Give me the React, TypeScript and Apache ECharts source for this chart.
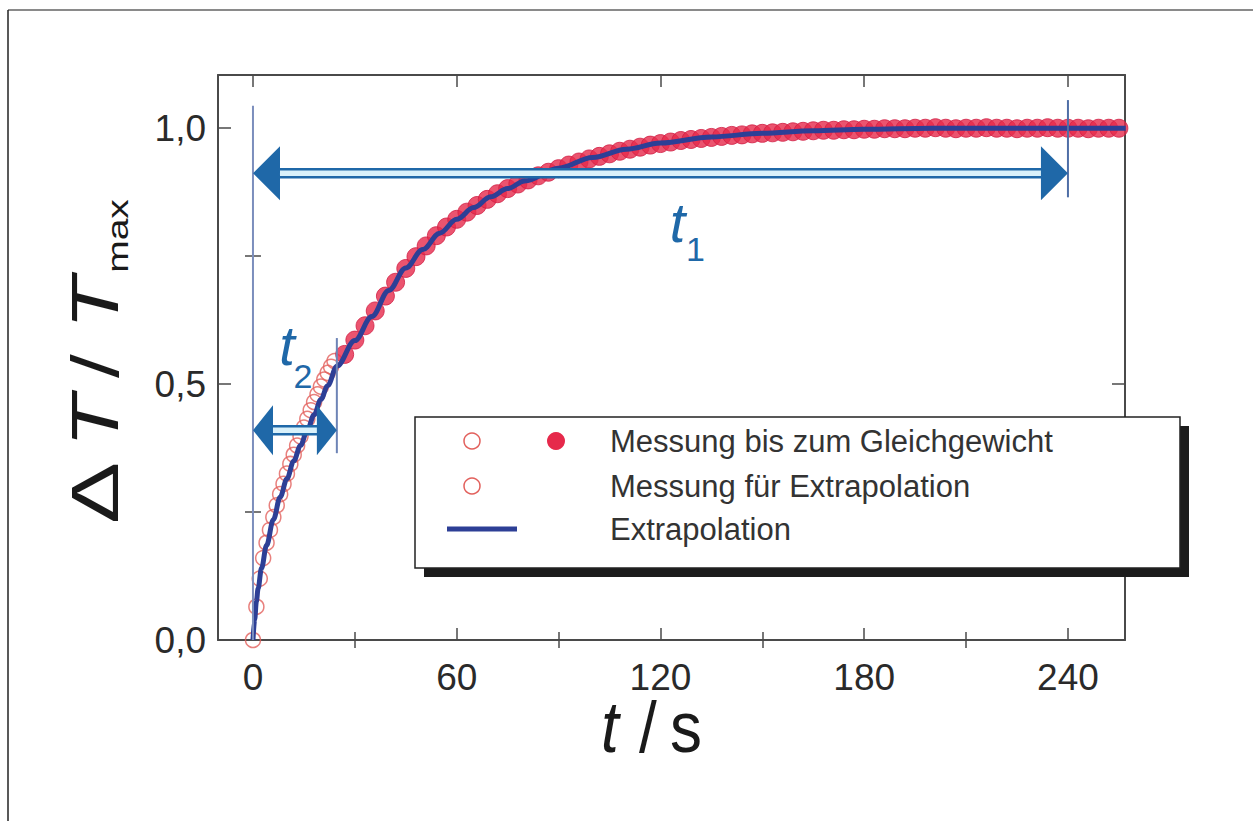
import React, { useEffect, useRef } from 'react';
import * as echarts from 'echarts';

// ---- data ----
const OPEN_T = [0, 1, 2, 3, 4, 5, 6, 7, 8, 9, 10, 11, 12, 13, 14, 15, 16, 17, 18, 19, 20, 21, 22, 23, 24];
const OPEN_V = [0.0, 0.065, 0.12, 0.16, 0.19, 0.215, 0.24, 0.263, 0.285, 0.305, 0.325, 0.344, 0.362, 0.38, 0.398, 0.415, 0.432, 0.449, 0.465, 0.48, 0.495, 0.509, 0.522, 0.534, 0.545];

const FILLED_T = [27, 30, 33, 36, 39, 42, 45, 48, 51, 54, 57, 60, 63, 66, 69, 72, 75, 78, 81, 84, 87, 90, 93, 96, 99, 102, 105, 108, 111, 114, 117, 120, 123, 126, 129, 132, 135, 138, 141, 144, 147, 150, 153, 156, 159, 162, 165, 168, 171, 174, 177, 180, 183, 186, 189, 192, 195, 198, 201, 204, 207, 210, 213, 216, 219, 222, 225, 228, 231, 234, 237, 240, 243, 246, 249, 252, 255];
const FILLED_V = [0.558, 0.586, 0.614, 0.643, 0.672, 0.699, 0.726, 0.749, 0.77, 0.79, 0.807, 0.822, 0.836, 0.849, 0.861, 0.872, 0.882, 0.891, 0.899, 0.907, 0.914, 0.921, 0.928, 0.934, 0.94, 0.945, 0.95, 0.955, 0.959, 0.963, 0.967, 0.97, 0.973, 0.976, 0.978, 0.98, 0.982, 0.984, 0.986, 0.987, 0.989, 0.99, 0.991, 0.992, 0.993, 0.994, 0.995, 0.996, 0.996, 0.997, 0.997, 0.998, 0.998, 0.999, 0.999, 0.999, 1.0, 1.0, 1.001, 1.0, 0.999, 1.0, 1.0, 1.001, 1.0, 1.0, 0.999, 1.0, 1.0, 1.001, 1.0, 1.0, 1.0, 0.999, 1.0, 1.0, 1.0];

const FIT_T = [0, 0.5, 1, 1.5, 2.5, 4, 6, 8, 10, 12, 14, 16, 18, 20, 22, 24.7, 30, 35, 40, 45, 50, 55, 60, 65, 70, 75, 80, 90, 100, 110, 120, 135, 150, 165, 180, 200, 257];
const FIT_V = [0, 0.04, 0.075, 0.1, 0.14, 0.185, 0.235, 0.279, 0.315, 0.35, 0.38, 0.41, 0.44, 0.47, 0.497, 0.535, 0.585, 0.632, 0.683, 0.727, 0.763, 0.795, 0.822, 0.845, 0.866, 0.882, 0.897, 0.922, 0.943, 0.959, 0.971, 0.983, 0.99, 0.995, 0.998, 1.0, 1.0];

const X_LABELS = [0, 60, 120, 180, 240];
const X_MINOR = [30, 90, 150, 210];
const Y_LABELS = [0, 0.5, 1.0];
const Y_MINOR = [0.25, 0.75];

const LEGEND_LABELS = ['Messung bis zum Gleichgewicht', 'Messung für Extrapolation', 'Extrapolation'];

// annotation arrows (time span, level in data units)
const T1_SPAN = [0, 240];
const T1_LEVEL = 0.912;
const T2_SPAN = [0, 24.7];
const T2_LEVEL = 0.41;

const X_MIN = -10.3;
const X_MAX = 256.8;
const Y_MIN = 0;
const Y_MAX = 1.104;

const RED = '#e6294b';
const OPEN_RED = '#e2605c';
const BLUE_LINE = '#2d3f96';
const ARROW = '#1f68a8';
const FRAME = '#4a4a4a';
const FONT = 'Liberation Sans, Arial, sans-serif';
const NARROW = '"Liberation Sans Narrow", "Liberation Sans", Arial, sans-serif';

export default function App() {
  const ref = useRef<HTMLDivElement>(null);

  useEffect(() => {
    if (!ref.current) return;
    const chart = echarts.init(ref.current, undefined, { renderer: 'svg' });

    const axisLine = { show: true, onZero: false, lineStyle: { color: FRAME, width: 2 } };
    const tickStyle = { color: FRAME, width: 1.5 };
    const xBase = { type: 'value', min: X_MIN, max: X_MAX, splitLine: { show: false } };
    const yBase = { type: 'value', min: Y_MIN, max: Y_MAX, splitLine: { show: false } };

    chart.setOption({
      animation: false,
      backgroundColor: '#ffffff',
      grid: { left: 218, top: 75, width: 907, height: 565, containLabel: false, outerBoundsMode: 'none' },
      xAxis: [
        {
          ...xBase, position: 'bottom', axisLine,
          axisTick: { show: true, inside: true, length: 12, customValues: X_LABELS, lineStyle: tickStyle },
          axisLabel: { show: true, customValues: X_LABELS, fontSize: 37, fontFamily: NARROW, color: '#2a2a2a', margin: 19 },
        },
        {
          ...xBase, position: 'bottom', axisLine: { show: false },
          axisTick: { show: true, inside: true, length: 8, customValues: X_MINOR, lineStyle: tickStyle },
          axisLabel: { show: false },
        },
        {
          ...xBase, position: 'top', axisLine,
          axisTick: { show: true, inside: true, length: 12, customValues: X_LABELS, lineStyle: tickStyle },
          axisLabel: { show: false },
        },
        {
          ...xBase, position: 'top', axisLine: { show: false },
          axisTick: { show: true, inside: true, length: 8, customValues: X_MINOR, lineStyle: tickStyle },
          axisLabel: { show: false },
        },
      ],
      yAxis: [
        {
          ...yBase, position: 'left', axisLine,
          axisTick: { show: true, inside: true, length: 13, customValues: Y_LABELS, lineStyle: tickStyle },
          axisLabel: {
            show: true, customValues: Y_LABELS, fontSize: 37, fontFamily: NARROW, color: '#2a2a2a', margin: 12,
            formatter: (v: number) => v.toFixed(1).replace('.', ','),
          },
        },
        {
          ...yBase, position: 'left', axisLine: { show: false },
          axisTick: { show: true, inside: true, length: 8, customValues: Y_MINOR, lineStyle: tickStyle },
          axisLabel: { show: false },
        },
        {
          ...yBase, position: 'right', axisLine,
          axisTick: { show: true, inside: true, length: 13, customValues: Y_LABELS, lineStyle: tickStyle },
          axisLabel: { show: false },
        },
        {
          ...yBase, position: 'right', axisLine: { show: false },
          axisTick: { show: true, inside: true, length: 8, customValues: Y_MINOR, lineStyle: tickStyle },
          axisLabel: { show: false },
        },
      ],
      series: [
        {
          name: 'Messung für Extrapolation',
          type: 'scatter',
          xAxisIndex: 0, yAxisIndex: 0,
          symbol: 'circle',
          symbolSize: 15,
          itemStyle: { color: 'rgba(0,0,0,0)', borderColor: OPEN_RED, borderWidth: 1.5 },
          data: OPEN_T.map((t, i) => [t, OPEN_V[i]]),
          z: 2,
        },
        {
          name: 'Messung bis zum Gleichgewicht',
          type: 'scatter',
          xAxisIndex: 0, yAxisIndex: 0,
          symbol: 'circle',
          symbolSize: 18,
          itemStyle: { color: RED, borderColor: '#d11f45', borderWidth: 1 },
          data: FILLED_T.map((t, i) => [t, FILLED_V[i]]),
          z: 3,
        },
        {
          name: 'Extrapolation',
          type: 'line',
          xAxisIndex: 0, yAxisIndex: 0,
          showSymbol: false,
          smooth: 0.35,
          smoothMonotone: 'x',
          lineStyle: { color: BLUE_LINE, width: 5 },
          data: FIT_T.map((t, i) => [t, FIT_V[i]]),
          z: 4,
        },
      ],
    });

    const px = (t: number, v: number) => chart.convertToPixel({ gridIndex: 0 }, [t, v]) as number[];

    const arrow = (span: number[], level: number, headL: number, headH: number) => {
      const a = px(span[0], level);
      const b = px(span[1], level);
      const y = a[1];
      return [
        {
          type: 'rect', z: 20,
          shape: { x: a[0] + headL - 2, y: y - 4, width: b[0] - a[0] - 2 * headL + 4, height: 8 },
          style: { fill: '#d9f1fa', stroke: ARROW, lineWidth: 2.5 },
        },
        {
          type: 'polygon', z: 21,
          shape: { points: [[a[0], y], [a[0] + headL, y - headH / 2], [a[0] + headL, y + headH / 2]] },
          style: { fill: ARROW },
        },
        {
          type: 'polygon', z: 21,
          shape: { points: [[b[0], y], [b[0] - headL, y - headH / 2], [b[0] - headL, y + headH / 2]] },
          style: { fill: ARROW },
        },
      ];
    };

    const vline = (t: number, v0: number, v1: number, color: string) => {
      const p0 = px(t, v0);
      const p1 = px(t, v1);
      return {
        type: 'line', z: 19,
        shape: { x1: p0[0], y1: p0[1], x2: p1[0], y2: p1[1] },
        style: { stroke: color, lineWidth: 2 },
      };
    };

    const t1Label = px(125, 0.815);
    const t2Label = px(10, 0.575);

    const legendX = 415, legendY = 417, legendW = 765, legendH = 151;
    const rowY = [441, 486, 529];

    chart.setOption({
      graphic: [
        // outer picture border (top and left)
        { type: 'line', z: 30, shape: { x1: 8, y1: 10, x2: 1253, y2: 10 }, style: { stroke: '#8a8a8a', lineWidth: 2 } },
        { type: 'line', z: 30, shape: { x1: 8, y1: 10, x2: 8, y2: 821 }, style: { stroke: '#222', lineWidth: 1.5 } },

        // verticals for t1 / t2
        vline(0, 1.044, 0, '#7c8ebd'),
        vline(T1_SPAN[1], 1.055, 0.865, '#4f6ea6'),
        vline(T2_SPAN[1], 0.59, 0.365, '#6d84b6'),
        ...arrow(T1_SPAN, T1_LEVEL, 27, 54),
        ...arrow(T2_SPAN, T2_LEVEL, 20, 50),

        // t1 label
        {
          type: 'text', z: 22, x: t1Label[0], y: t1Label[1],
          style: { text: 't', fontSize: 56, fontStyle: 'italic', fontFamily: FONT, fill: ARROW, textAlign: 'center', textVerticalAlign: 'middle' },
        },
        {
          type: 'text', z: 22, x: t1Label[0] + 18, y: t1Label[1] + 26,
          style: { text: '1', fontSize: 34, fontFamily: FONT, fill: ARROW, textAlign: 'center', textVerticalAlign: 'middle' },
        },
        // t2 label
        {
          type: 'text', z: 22, x: t2Label[0], y: t2Label[1],
          style: { text: 't', fontSize: 56, fontStyle: 'italic', fontFamily: FONT, fill: ARROW, textAlign: 'center', textVerticalAlign: 'middle' },
        },
        {
          type: 'text', z: 22, x: t2Label[0] + 16, y: t2Label[1] + 30,
          style: { text: '2', fontSize: 34, fontFamily: FONT, fill: ARROW, textAlign: 'center', textVerticalAlign: 'middle' },
        },

        // legend box with shadow
        { type: 'rect', z: 40, shape: { x: legendX + 9, y: legendY + 9, width: legendW, height: legendH }, style: { fill: '#1c1c1c' } },
        { type: 'rect', z: 41, shape: { x: legendX, y: legendY, width: legendW, height: legendH }, style: { fill: '#fff', stroke: '#222', lineWidth: 1.5 } },
        { type: 'circle', z: 42, shape: { cx: 472, cy: rowY[0], r: 8 }, style: { fill: 'none', stroke: OPEN_RED, lineWidth: 1.5 } },
        { type: 'circle', z: 42, shape: { cx: 556, cy: rowY[0], r: 9 }, style: { fill: RED } },
        { type: 'circle', z: 42, shape: { cx: 472, cy: rowY[1], r: 8 }, style: { fill: 'none', stroke: OPEN_RED, lineWidth: 1.5 } },
        { type: 'line', z: 42, shape: { x1: 447, y1: rowY[2], x2: 517, y2: rowY[2] }, style: { stroke: BLUE_LINE, lineWidth: 5 } },
        ...LEGEND_LABELS.map((s, i) => ({
          type: 'text', z: 42, x: 610, y: rowY[i],
          style: { text: s, fontSize: 31, fontFamily: FONT, fill: '#333', textAlign: 'left', textVerticalAlign: 'middle' },
        })),

        // x axis title  t / s
        {
          type: 'text', z: 22, x: 610, y: 727, scaleY: 1.12,
          style: { text: 't', fontSize: 64, fontStyle: 'italic', fontFamily: FONT, fill: '#1a1a1a', textAlign: 'center', textVerticalAlign: 'middle' },
        },
        {
          type: 'text', z: 22, x: 648, y: 727, scaleY: 1.12,
          style: { text: '/', fontSize: 64, fontFamily: FONT, fill: '#1a1a1a', textAlign: 'center', textVerticalAlign: 'middle' },
        },
        {
          type: 'text', z: 22, x: 686, y: 727, scaleY: 1.12,
          style: { text: 's', fontSize: 64, fontFamily: FONT, fill: '#1a1a1a', textAlign: 'center', textVerticalAlign: 'middle' },
        },

        // y axis title  ΔT / T_max  (rotated)
        {
          type: 'text', z: 22, x: 95, y: 493, rotation: Math.PI / 2, scaleX: 1.4,
          style: { text: 'Δ', fontSize: 66, fontFamily: FONT, fill: '#1a1a1a', textAlign: 'center', textVerticalAlign: 'middle' },
        },
        {
          type: 'text', z: 22, x: 95, y: 421, rotation: Math.PI / 2, scaleX: 1.3,
          style: { text: 'T', fontSize: 66, fontStyle: 'italic', fontFamily: FONT, fill: '#1a1a1a', textAlign: 'center', textVerticalAlign: 'middle' },
        },
        {
          type: 'text', z: 22, x: 95, y: 366, rotation: Math.PI / 2, scaleX: 1.3,
          style: { text: '/', fontSize: 66, fontFamily: FONT, fill: '#1a1a1a', textAlign: 'center', textVerticalAlign: 'middle' },
        },
        {
          type: 'text', z: 22, x: 95, y: 303, rotation: Math.PI / 2, scaleX: 1.3,
          style: { text: 'T', fontSize: 66, fontStyle: 'italic', fontFamily: FONT, fill: '#1a1a1a', textAlign: 'center', textVerticalAlign: 'middle' },
        },
        {
          type: 'text', z: 22, x: 118, y: 236, rotation: Math.PI / 2, scaleX: 1.3,
          style: { text: 'max', fontSize: 30, fontFamily: FONT, fill: '#1a1a1a', textAlign: 'center', textVerticalAlign: 'middle' },
        },
      ],
    });

    return () => chart.dispose();
  }, []);

  return (
    <div
      ref={ref}
      style={{ position: 'fixed', left: 0, top: 0, width: 1253, height: 821, background: '#fff' }}
    />
  );
}
